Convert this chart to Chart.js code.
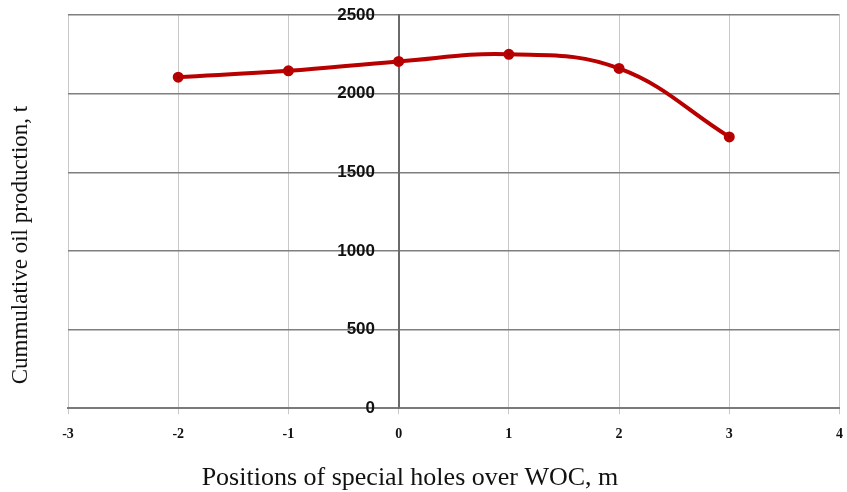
<!DOCTYPE html>
<html lang="en">
<head>
  <meta charset="UTF-8" />
  <title>Cummulative oil production vs position of special holes</title>
  <style>
    body { margin: 0; background: #fff; }
    #wrap { width: 847px; height: 492px; }
  </style>
</head>
<body>
  <div id="wrap"><canvas id="chart" width="847" height="492"></canvas></div>

  <script src="https://cdn.jsdelivr.net/npm/chart.js@4/dist/chart.umd.min.js"></script>
  <script>
    // data
    const positions = [-2, -1, 0, 1, 2, 3];
    const production = [2105, 2145, 2205, 2250, 2160, 1725];
    const xTicks = [-3, -2, -1, 0, 1, 2, 3, 4];
    const yTicks = [0, 500, 1000, 1500, 2000, 2500];
    const yTitle = 'Cummulative oil production, t';
    const xTitle = 'Positions of special holes over WOC, m';

    const points = positions.map((p, i) => ({ x: p, y: production[i] }));

    // axis titles: y is vertical at the far left, x is centred under the zero line
    const titlesPlugin = {
      id: 'axisTitles',
      afterDraw(chart) {
        const ctx = chart.ctx;
        ctx.save();
        ctx.fillStyle = '#111';
        ctx.textAlign = 'center';
        ctx.textBaseline = 'middle';
        ctx.font = '26px "Liberation Serif", serif';
        ctx.fillText(xTitle, 410, 478);
        ctx.translate(21, 245);
        ctx.rotate(-Math.PI / 2);
        ctx.font = '23px "Liberation Serif", serif';
        ctx.fillText(yTitle, 0, 0);
        ctx.restore();
      }
    };

    // plot edges follow the picture, not the label sizes
    const noPad = s => { s.paddingRight = 0; s.paddingLeft = 0; s.paddingTop = 0; s.paddingBottom = 0; };

    new Chart(document.getElementById('chart'), {
      type: 'line',
      data: {
        datasets: [{
          data: points,
          borderColor: '#b80000',
          backgroundColor: '#9a0000',
          borderWidth: 4,
          pointRadius: 3.5,
          pointHoverRadius: 3.5,
          tension: 0.4,
          fill: false
        }]
      },
      options: {
        responsive: false,
        animation: false,
        layout: { padding: { top: 15, right: -4, left: 68, bottom: 37 } },
        plugins: { legend: { display: false }, tooltip: { enabled: false } },
        scales: {
          x: {
            type: 'linear',
            min: -3, max: 4,
            afterBuildTicks: s => { s.ticks = xTicks.map(v => ({ value: v })); },
            afterFit: noPad,
            grid: { color: '#c8c8c8', lineWidth: 1, tickLength: 6 },
            border: { color: '#7a7a7a', width: 2 },
            ticks: {
              color: '#111',
              padding: 12,
              font: { family: '"Liberation Serif", serif', size: 14, weight: 'bold' }
            }
          },
          y: {
            type: 'linear',
            position: { x: 0 },
            min: 0, max: 2500,
            afterBuildTicks: s => { s.ticks = yTicks.map(v => ({ value: v })); },
            afterFit: noPad,
            grid: { color: '#7f7f7f', lineWidth: 1.5, drawTicks: false },
            border: { color: '#6a6a6a', width: 2 },
            ticks: {
              color: '#111',
              // labels sit a little left of the central axis line
              callback: v => String(v) + '     ',
              font: { family: '"Liberation Sans", Arial, sans-serif', size: 17, weight: 'bold' }
            }
          }
        }
      },
      plugins: [titlesPlugin]
    });
  </script>
</body>
</html>
